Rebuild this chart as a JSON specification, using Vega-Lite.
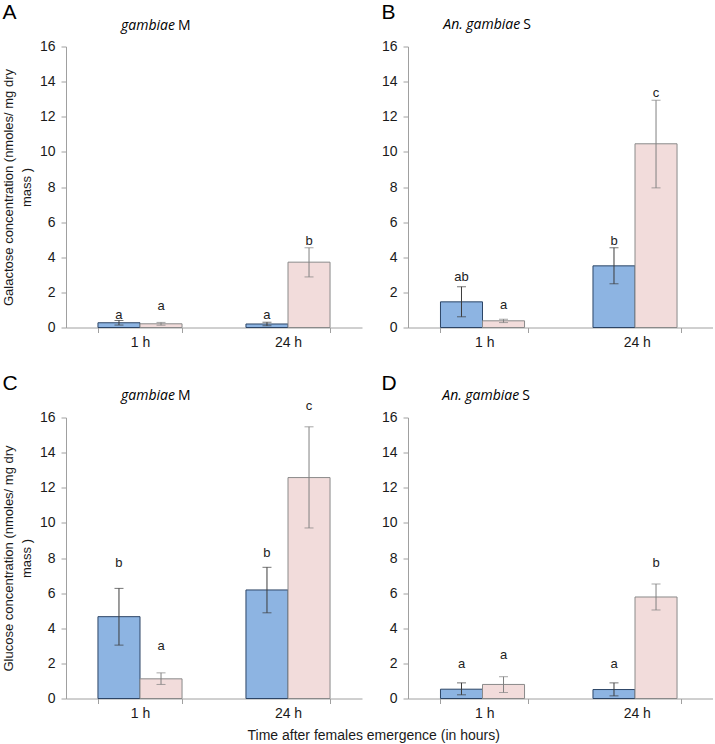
{
  "$schema": "https://vega.github.io/schema/vega-lite/v6.json",
  "padding": {"left": 2, "top": 1.5, "right": 0, "bottom": 0},
  "background": "white",
  "datasets": {
    "bars": [
      {"panel": "A", "time": "1 h", "series": "1", "mean": 0.27, "lo": 0.14, "hi": 0.40, "letter": "a", "label_y": 0.72},
      {"panel": "A", "time": "1 h", "series": "2", "mean": 0.21, "lo": 0.13, "hi": 0.29, "letter": "a", "label_y": 1.25},
      {"panel": "A", "time": "24 h", "series": "1", "mean": 0.20, "lo": 0.10, "hi": 0.30, "letter": "a", "label_y": 0.72},
      {"panel": "A", "time": "24 h", "series": "2", "mean": 3.72, "lo": 2.88, "hi": 4.54, "letter": "b", "label_y": 4.95},
      {"panel": "B", "time": "1 h", "series": "1", "mean": 1.46, "lo": 0.61, "hi": 2.32, "letter": "ab", "label_y": 2.85},
      {"panel": "B", "time": "1 h", "series": "2", "mean": 0.38, "lo": 0.28, "hi": 0.47, "letter": "a", "label_y": 1.29},
      {"panel": "B", "time": "24 h", "series": "1", "mean": 3.51, "lo": 2.49, "hi": 4.54, "letter": "b", "label_y": 4.95},
      {"panel": "B", "time": "24 h", "series": "2", "mean": 10.46, "lo": 7.95, "hi": 12.94, "letter": "c", "label_y": 13.38},
      {"panel": "C", "time": "1 h", "series": "1", "mean": 4.66, "lo": 3.04, "hi": 6.27, "letter": "b", "label_y": 7.73},
      {"panel": "C", "time": "1 h", "series": "2", "mean": 1.12, "lo": 0.80, "hi": 1.46, "letter": "a", "label_y": 3.0},
      {"panel": "C", "time": "24 h", "series": "1", "mean": 6.18, "lo": 4.88, "hi": 7.47, "letter": "b", "label_y": 8.28},
      {"panel": "C", "time": "24 h", "series": "2", "mean": 12.58, "lo": 9.71, "hi": 15.47, "letter": "c", "label_y": 16.67},
      {"panel": "D", "time": "1 h", "series": "1", "mean": 0.53, "lo": 0.21, "hi": 0.89, "letter": "a", "label_y": 1.94},
      {"panel": "D", "time": "1 h", "series": "2", "mean": 0.80, "lo": 0.34, "hi": 1.24, "letter": "a", "label_y": 2.47},
      {"panel": "D", "time": "24 h", "series": "1", "mean": 0.51, "lo": 0.15, "hi": 0.89, "letter": "a", "label_y": 1.94},
      {"panel": "D", "time": "24 h", "series": "2", "mean": 5.78, "lo": 5.04, "hi": 6.52, "letter": "b", "label_y": 7.73}
    ],
    "species": [
      {"panel": "A", "italic": "gambiae", "roman": "M"},
      {"panel": "B", "italic": "An. gambiae", "roman": "S"},
      {"panel": "C", "italic": "gambiae", "roman": "M"},
      {"panel": "D", "italic": "An. gambiae", "roman": "S"}
    ]
  },
  "title": {
    "text": "Time after females emergence (in hours)",
    "orient": "bottom",
    "anchor": "middle",
    "frame": "bounds",
    "fontSize": 14,
    "offset": 8,
    "dx": 16,
    "color": "#1a1a1a"
  },
  "spacing": 23,
  "vconcat": [
    {
      "spacing": 19,
      "hconcat": [
        {
          "width": 296, "height": 281,
          "title": {"text": "A"},
          "layer": [
            {"data": {"name": "bars"}, "transform": [{"filter": "datum.panel === 'A'"}],
             "mark": {"type": "bar", "strokeWidth": 1},
             "encoding": {
               "x": {"field": "time", "type": "nominal", "sort": ["1 h", "24 h"], "scale": {"paddingInner": 0.432, "paddingOuter": 0.216}, "axis": {"title": null, "labelAngle": 0, "tickBand": "extent", "labelPadding": 3}},
               "xOffset": {"field": "series", "type": "nominal"},
               "y": {"field": "mean", "type": "quantitative", "scale": {"domain": [0, 16], "nice": false}, "axis": {"values": [0, 2, 4, 6, 8, 10, 12, 14, 16], "tickCount": 12, "labelOverlap": false, "title": ["Galactose concentration (nmoles/ mg dry", "mass )"]}},
               "fill": {"field": "series", "type": "nominal", "scale": {"domain": ["1", "2"], "range": ["#8DB4E2", "#F2DCDB"]}, "legend": null},
               "stroke": {"condition": {"test": "datum.series === '1'", "value": "#2C4566"}, "value": "#8A8A8A"}
             }},
            {"data": {"name": "bars"}, "transform": [{"filter": "datum.panel === 'A'"}],
             "mark": {"type": "rule", "strokeWidth": 1},
             "encoding": {
               "x": {"field": "time", "type": "nominal", "sort": ["1 h", "24 h"]},
               "xOffset": {"field": "series", "type": "nominal"},
               "y": {"field": "lo", "type": "quantitative"},
               "y2": {"field": "hi"},
               "stroke": {"condition": {"test": "datum.series === '1'", "value": "#3C3C3C"}, "value": "#808080"}
             }},
            {"data": {"name": "bars"}, "transform": [{"filter": "datum.panel === 'A'"}, {"fold": ["lo", "hi"], "as": ["end", "v"]}],
             "mark": {"type": "tick", "orient": "horizontal", "size": 9, "thickness": 1},
             "encoding": {
               "x": {"field": "time", "type": "nominal", "sort": ["1 h", "24 h"]},
               "xOffset": {"field": "series", "type": "nominal"},
               "y": {"field": "v", "type": "quantitative"},
               "color": {"condition": {"test": "datum.series === '1'", "value": "#3C3C3C"}, "value": "#808080"}
             }},
            {"data": {"name": "bars"}, "transform": [{"filter": "datum.panel === 'A'"}],
             "mark": {"type": "text", "fontSize": 13, "color": "#222222", "baseline": "middle"},
             "encoding": {
               "x": {"field": "time", "type": "nominal", "sort": ["1 h", "24 h"]},
               "xOffset": {"field": "series", "type": "nominal"},
               "y": {"field": "label_y", "type": "quantitative"},
               "text": {"field": "letter"}
             }},
            {"data": {"name": "species"}, "transform": [{"filter": "datum.panel === 'A'"}],
             "mark": {"type": "text", "align": "right", "dx": 35, "font": "Open Sans", "fontStyle": "italic", "fontSize": 14, "color": "#000000", "baseline": "middle"},
             "encoding": {"x": {"datum": "1 h"}, "y": {"datum": 17.17, "type": "quantitative"}, "text": {"field": "italic"}}},
            {"data": {"name": "species"}, "transform": [{"filter": "datum.panel === 'A'"}],
             "mark": {"type": "text", "align": "left", "dx": 38, "font": "Open Sans", "fontSize": 14, "color": "#000000", "baseline": "middle"},
             "encoding": {"x": {"datum": "1 h"}, "y": {"datum": 17.17, "type": "quantitative"}, "text": {"field": "roman"}}}
          ]
        },
        {
          "width": 305, "height": 281,
          "title": {"text": "B"},
          "layer": [
            {"data": {"name": "bars"}, "transform": [{"filter": "datum.panel === 'B'"}],
             "mark": {"type": "bar", "strokeWidth": 1},
             "encoding": {
               "x": {"field": "time", "type": "nominal", "sort": ["1 h", "24 h"], "scale": {"paddingInner": 0.426, "paddingOuter": 0.213}, "axis": {"title": null, "labelAngle": 0, "tickBand": "extent", "labelPadding": 3}},
               "xOffset": {"field": "series", "type": "nominal"},
               "y": {"field": "mean", "type": "quantitative", "scale": {"domain": [0, 16], "nice": false}, "axis": {"values": [0, 2, 4, 6, 8, 10, 12, 14, 16], "tickCount": 12, "labelOverlap": false, "title": null}},
               "fill": {"field": "series", "type": "nominal", "scale": {"domain": ["1", "2"], "range": ["#8DB4E2", "#F2DCDB"]}, "legend": null},
               "stroke": {"condition": {"test": "datum.series === '1'", "value": "#2C4566"}, "value": "#8A8A8A"}
             }},
            {"data": {"name": "bars"}, "transform": [{"filter": "datum.panel === 'B'"}],
             "mark": {"type": "rule", "strokeWidth": 1},
             "encoding": {
               "x": {"field": "time", "type": "nominal", "sort": ["1 h", "24 h"]},
               "xOffset": {"field": "series", "type": "nominal"},
               "y": {"field": "lo", "type": "quantitative"},
               "y2": {"field": "hi"},
               "stroke": {"condition": {"test": "datum.series === '1'", "value": "#3C3C3C"}, "value": "#808080"}
             }},
            {"data": {"name": "bars"}, "transform": [{"filter": "datum.panel === 'B'"}, {"fold": ["lo", "hi"], "as": ["end", "v"]}],
             "mark": {"type": "tick", "orient": "horizontal", "size": 9, "thickness": 1},
             "encoding": {
               "x": {"field": "time", "type": "nominal", "sort": ["1 h", "24 h"]},
               "xOffset": {"field": "series", "type": "nominal"},
               "y": {"field": "v", "type": "quantitative"},
               "color": {"condition": {"test": "datum.series === '1'", "value": "#3C3C3C"}, "value": "#808080"}
             }},
            {"data": {"name": "bars"}, "transform": [{"filter": "datum.panel === 'B'"}],
             "mark": {"type": "text", "fontSize": 13, "color": "#222222", "baseline": "middle"},
             "encoding": {
               "x": {"field": "time", "type": "nominal", "sort": ["1 h", "24 h"]},
               "xOffset": {"field": "series", "type": "nominal"},
               "y": {"field": "label_y", "type": "quantitative"},
               "text": {"field": "letter"}
             }},
            {"data": {"name": "species"}, "transform": [{"filter": "datum.panel === 'B'"}],
             "mark": {"type": "text", "align": "right", "dx": 36, "font": "Open Sans", "fontStyle": "italic", "fontSize": 14, "color": "#000000", "baseline": "middle"},
             "encoding": {"x": {"datum": "1 h"}, "y": {"datum": 17.2, "type": "quantitative"}, "text": {"field": "italic"}}},
            {"data": {"name": "species"}, "transform": [{"filter": "datum.panel === 'B'"}],
             "mark": {"type": "text", "align": "left", "dx": 39, "font": "Open Sans", "fontSize": 14, "color": "#000000", "baseline": "middle"},
             "encoding": {"x": {"datum": "1 h"}, "y": {"datum": 17.2, "type": "quantitative"}, "text": {"field": "roman"}}}
          ]
        }
      ]
    },
    {
      "spacing": 19,
      "hconcat": [
        {
          "width": 296, "height": 281,
          "title": {"text": "C"},
          "layer": [
            {"data": {"name": "bars"}, "transform": [{"filter": "datum.panel === 'C'"}],
             "mark": {"type": "bar", "strokeWidth": 1},
             "encoding": {
               "x": {"field": "time", "type": "nominal", "sort": ["1 h", "24 h"], "scale": {"paddingInner": 0.432, "paddingOuter": 0.216}, "axis": {"title": null, "labelAngle": 0, "tickBand": "extent", "labelPadding": 3}},
               "xOffset": {"field": "series", "type": "nominal"},
               "y": {"field": "mean", "type": "quantitative", "scale": {"domain": [0, 16], "nice": false}, "axis": {"values": [0, 2, 4, 6, 8, 10, 12, 14, 16], "tickCount": 12, "labelOverlap": false, "title": ["Glucose concentration (nmoles/ mg dry", "mass )"]}},
               "fill": {"field": "series", "type": "nominal", "scale": {"domain": ["1", "2"], "range": ["#8DB4E2", "#F2DCDB"]}, "legend": null},
               "stroke": {"condition": {"test": "datum.series === '1'", "value": "#2C4566"}, "value": "#8A8A8A"}
             }},
            {"data": {"name": "bars"}, "transform": [{"filter": "datum.panel === 'C'"}],
             "mark": {"type": "rule", "strokeWidth": 1},
             "encoding": {
               "x": {"field": "time", "type": "nominal", "sort": ["1 h", "24 h"]},
               "xOffset": {"field": "series", "type": "nominal"},
               "y": {"field": "lo", "type": "quantitative"},
               "y2": {"field": "hi"},
               "stroke": {"condition": {"test": "datum.series === '1'", "value": "#3C3C3C"}, "value": "#808080"}
             }},
            {"data": {"name": "bars"}, "transform": [{"filter": "datum.panel === 'C'"}, {"fold": ["lo", "hi"], "as": ["end", "v"]}],
             "mark": {"type": "tick", "orient": "horizontal", "size": 9, "thickness": 1},
             "encoding": {
               "x": {"field": "time", "type": "nominal", "sort": ["1 h", "24 h"]},
               "xOffset": {"field": "series", "type": "nominal"},
               "y": {"field": "v", "type": "quantitative"},
               "color": {"condition": {"test": "datum.series === '1'", "value": "#3C3C3C"}, "value": "#808080"}
             }},
            {"data": {"name": "bars"}, "transform": [{"filter": "datum.panel === 'C'"}],
             "mark": {"type": "text", "fontSize": 13, "color": "#222222", "baseline": "middle"},
             "encoding": {
               "x": {"field": "time", "type": "nominal", "sort": ["1 h", "24 h"]},
               "xOffset": {"field": "series", "type": "nominal"},
               "y": {"field": "label_y", "type": "quantitative"},
               "text": {"field": "letter"}
             }},
            {"data": {"name": "species"}, "transform": [{"filter": "datum.panel === 'C'"}],
             "mark": {"type": "text", "align": "right", "dx": 35, "font": "Open Sans", "fontStyle": "italic", "fontSize": 14, "color": "#000000", "baseline": "middle"},
             "encoding": {"x": {"datum": "1 h"}, "y": {"datum": 17.2, "type": "quantitative"}, "text": {"field": "italic"}}},
            {"data": {"name": "species"}, "transform": [{"filter": "datum.panel === 'C'"}],
             "mark": {"type": "text", "align": "left", "dx": 38, "font": "Open Sans", "fontSize": 14, "color": "#000000", "baseline": "middle"},
             "encoding": {"x": {"datum": "1 h"}, "y": {"datum": 17.2, "type": "quantitative"}, "text": {"field": "roman"}}}
          ]
        },
        {
          "width": 305, "height": 281,
          "title": {"text": "D"},
          "layer": [
            {"data": {"name": "bars"}, "transform": [{"filter": "datum.panel === 'D'"}],
             "mark": {"type": "bar", "strokeWidth": 1},
             "encoding": {
               "x": {"field": "time", "type": "nominal", "sort": ["1 h", "24 h"], "scale": {"paddingInner": 0.426, "paddingOuter": 0.213}, "axis": {"title": null, "labelAngle": 0, "tickBand": "extent", "labelPadding": 3}},
               "xOffset": {"field": "series", "type": "nominal"},
               "y": {"field": "mean", "type": "quantitative", "scale": {"domain": [0, 16], "nice": false}, "axis": {"values": [0, 2, 4, 6, 8, 10, 12, 14, 16], "tickCount": 12, "labelOverlap": false, "title": null}},
               "fill": {"field": "series", "type": "nominal", "scale": {"domain": ["1", "2"], "range": ["#8DB4E2", "#F2DCDB"]}, "legend": null},
               "stroke": {"condition": {"test": "datum.series === '1'", "value": "#2C4566"}, "value": "#8A8A8A"}
             }},
            {"data": {"name": "bars"}, "transform": [{"filter": "datum.panel === 'D'"}],
             "mark": {"type": "rule", "strokeWidth": 1},
             "encoding": {
               "x": {"field": "time", "type": "nominal", "sort": ["1 h", "24 h"]},
               "xOffset": {"field": "series", "type": "nominal"},
               "y": {"field": "lo", "type": "quantitative"},
               "y2": {"field": "hi"},
               "stroke": {"condition": {"test": "datum.series === '1'", "value": "#3C3C3C"}, "value": "#808080"}
             }},
            {"data": {"name": "bars"}, "transform": [{"filter": "datum.panel === 'D'"}, {"fold": ["lo", "hi"], "as": ["end", "v"]}],
             "mark": {"type": "tick", "orient": "horizontal", "size": 9, "thickness": 1},
             "encoding": {
               "x": {"field": "time", "type": "nominal", "sort": ["1 h", "24 h"]},
               "xOffset": {"field": "series", "type": "nominal"},
               "y": {"field": "v", "type": "quantitative"},
               "color": {"condition": {"test": "datum.series === '1'", "value": "#3C3C3C"}, "value": "#808080"}
             }},
            {"data": {"name": "bars"}, "transform": [{"filter": "datum.panel === 'D'"}],
             "mark": {"type": "text", "fontSize": 13, "color": "#222222", "baseline": "middle"},
             "encoding": {
               "x": {"field": "time", "type": "nominal", "sort": ["1 h", "24 h"]},
               "xOffset": {"field": "series", "type": "nominal"},
               "y": {"field": "label_y", "type": "quantitative"},
               "text": {"field": "letter"}
             }},
            {"data": {"name": "species"}, "transform": [{"filter": "datum.panel === 'D'"}],
             "mark": {"type": "text", "align": "right", "dx": 35, "font": "Open Sans", "fontStyle": "italic", "fontSize": 14, "color": "#000000", "baseline": "middle"},
             "encoding": {"x": {"datum": "1 h"}, "y": {"datum": 17.2, "type": "quantitative"}, "text": {"field": "italic"}}},
            {"data": {"name": "species"}, "transform": [{"filter": "datum.panel === 'D'"}],
             "mark": {"type": "text", "align": "left", "dx": 38, "font": "Open Sans", "fontSize": 14, "color": "#000000", "baseline": "middle"},
             "encoding": {"x": {"datum": "1 h"}, "y": {"datum": 17.2, "type": "quantitative"}, "text": {"field": "roman"}}}
          ]
        }
      ]
    }
  ],
  "config": {
    "font": "Liberation Sans",
    "view": {"stroke": null},
    "title": {"fontSize": 21, "fontWeight": "normal", "anchor": "start", "frame": "bounds", "offset": -4.5, "color": "#000000", "font": "Liberation Sans"},
    "axis": {
      "grid": false,
      "domainColor": "#A0A0A0",
      "tickColor": "#A0A0A0",
      "tickSize": 5,
      "labelFont": "Liberation Sans",
      "labelFontSize": 14,
      "labelColor": "#1a1a1a",
      "titleFont": "Liberation Sans",
      "titleFontSize": 13,
      "titleFontWeight": "normal",
      "titleColor": "#1a1a1a",
      "titleLineHeight": 18
    },
    "axisY": {"labelPadding": 6, "titlePadding": 6, "labelOverlap": false},
    "text": {"font": "Liberation Sans"}
  }
}
